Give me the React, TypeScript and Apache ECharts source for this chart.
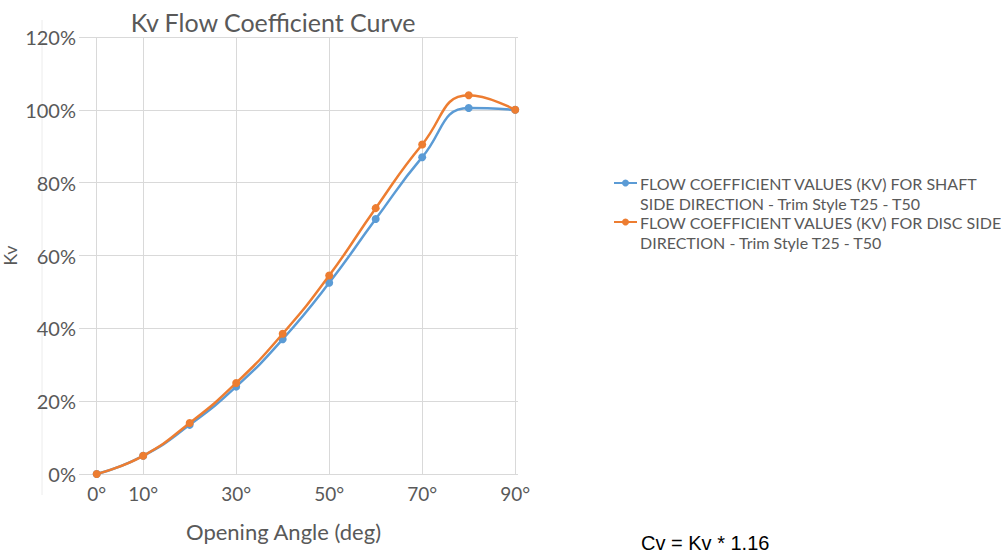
import React, { useEffect, useRef } from "react";
import * as echarts from "echarts";

const angles = [0, 10, 20, 30, 40, 50, 60, 70, 80, 90];
const shaftValues = [0, 0.05, 0.135, 0.24, 0.37, 0.525, 0.70, 0.87, 1.005, 1.0];
const discValues = [0, 0.05, 0.14, 0.25, 0.385, 0.545, 0.73, 0.905, 1.04, 1.0];
const xTickLabels = [0, 10, 30, 50, 70, 90];
const seriesNames = [
  "FLOW COEFFICIENT VALUES (KV) FOR SHAFT\nSIDE DIRECTION - Trim Style T25 - T50",
  "FLOW COEFFICIENT VALUES (KV) FOR DISC SIDE\nDIRECTION - Trim Style T25 - T50",
];
const colors = ["#5b9bd5", "#ed7d31"];

const FONT = "Lato, 'Open Sans', sans-serif";
const GREY = "#595959";

export default function App() {
  const ref = useRef<HTMLDivElement>(null);
  useEffect(() => {
    if (!ref.current) return;
    const chart = echarts.init(ref.current, null, { renderer: "svg" });
    const toPairs = (vals: number[]) => angles.map((a, i) => [a, vals[i]]);
    const legendItems: any[] = [];
    seriesNames.forEach((name, i) => {
      const y = 183 + i * 39;
      legendItems.push(
        { type: "line", shape: { x1: 614, y1: y, x2: 637, y2: y }, style: { stroke: colors[i], lineWidth: 2 } },
        { type: "circle", shape: { cx: 625.5, cy: y, r: 3.5 }, style: { fill: colors[i] } },
        {
          type: "text",
          x: 640,
          y: y - 10,
          style: { text: name, fill: GREY, font: `16px ${FONT}`, lineHeight: 20, textVerticalAlign: "top" },
        }
      );
    });
    chart.setOption({
      animation: false,
      title: {
        text: "Kv Flow Coefficient Curve",
        left: 268,
        top: 4,
        textAlign: "center",
        textStyle: { fontFamily: FONT, fontSize: 25, fontWeight: "normal", color: GREY },
      },
      grid: { left: 70, right: 483, top: 37, bottom: 82, containLabel: false },
      xAxis: {
        type: "value",
        min: -3.8,
        max: 90.6,
        name: "Opening Angle (deg)",
        nameLocation: "middle",
        nameGap: 46,
        nameTextStyle: { fontFamily: FONT, fontSize: 22, color: GREY, padding: [0, 30, 0, 0] },
        axisLine: { show: false },
        axisTick: { show: false },
        splitLine: { show: false },
        axisLabel: {
          customValues: xTickLabels,
          formatter: (v: number) => `${v}°`,
          fontFamily: FONT,
          fontSize: 19,
          color: GREY,
          margin: 10,
        },
      },
      yAxis: {
        type: "value",
        min: 0,
        max: 1.2,
        interval: 0.2,
        name: "Kv",
        nameLocation: "middle",
        nameGap: 60,
        nameRotate: 90,
        nameTextStyle: { fontFamily: FONT, fontSize: 18, color: GREY },
        axisLine: { show: false },
        axisTick: { show: false },
        axisLabel: {
          formatter: (v: number) => `${Math.round(v * 100)}%`,
          fontFamily: FONT,
          fontSize: 20,
          color: GREY,
          margin: 3,
        },
        splitLine: { lineStyle: { color: "#d9d9d9", width: 1 } },
      },
      graphic: [
        { type: "line", shape: { x1: 42, y1: 20, x2: 42, y2: 495 }, style: { stroke: "#ececec", lineWidth: 1 }, silent: true },
        ...legendItems,
        {
          type: "text",
          x: 641,
          y: 543,
          style: {
            text: "Cv = Kv * 1.16",
            fill: "#000",
            font: "20px 'Liberation Sans', Arial, sans-serif",
            textVerticalAlign: "middle",
          },
        },
      ],
      series: [
        {
          name: seriesNames[0],
          type: "line",
          data: toPairs(shaftValues),
          smooth: 0.5,
          smoothMonotone: "none",
          symbol: "circle",
          symbolSize: 8,
          itemStyle: { color: colors[0] },
          lineStyle: { color: colors[0], width: 2.5 },
          markLine: {
            silent: true,
            symbol: "none",
            label: { show: false },
            lineStyle: { color: "#d9d9d9", width: 1, type: "solid" },
            data: xTickLabels.map((v) => ({ xAxis: v })),
            z: 0,
          },
          z: 3,
        },
        {
          name: seriesNames[1],
          type: "line",
          data: toPairs(discValues),
          smooth: 0.5,
          smoothMonotone: "none",
          symbol: "circle",
          symbolSize: 8,
          itemStyle: { color: colors[1] },
          lineStyle: { color: colors[1], width: 2.5 },
          z: 4,
        },
      ],
    });
    return () => chart.dispose();
  }, []);
  return (
    <div
      ref={ref}
      style={{ position: "absolute", left: 0, top: 0, width: 1001, height: 556, background: "#fff" }}
    />
  );
}
